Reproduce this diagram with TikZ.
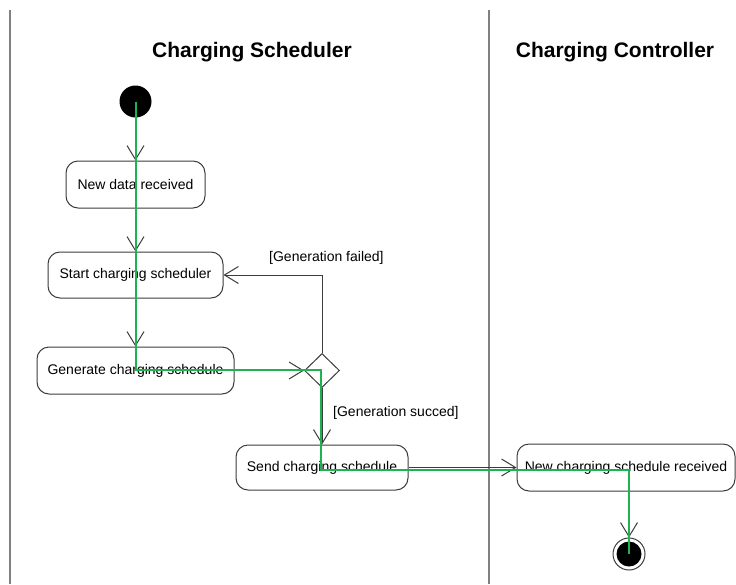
\documentclass[tikz,border=0pt]{standalone}
\usepackage{fontspec}
\setmainfont{Liberation Sans}
\usetikzlibrary{arrows.meta,shapes.geometric}
\definecolor{lanegray}{RGB}{128,128,128}
\definecolor{edgegray}{RGB}{60,60,60}
\definecolor{tracegreen}{RGB}{30,178,80}

\begin{document}
\begin{tikzpicture}[x=1pt,y=-1pt,
  lane/.style={draw=lanegray, line width=2pt},
  lanetitle/.style={font=\fontsize{21}{24}\selectfont\bfseries, inner sep=0pt},
  action/.style={draw=edgegray, line width=1pt, rounded corners=12pt,
    minimum height=46pt, inner sep=0pt, font=\fontsize{14}{16}\selectfont},
  guard/.style={font=\fontsize{14}{16}\selectfont, inner sep=0pt, anchor=west},
  flow/.style={draw=edgegray, line width=1pt,
    -{Straight Barb[length=14pt,width=17pt,line width=1pt]}},
  trace/.style={draw=tracegreen, line width=2pt}]

\useasboundingbox (0,0) rectangle (736,584);

% swimlane separators
\draw[lane] (10,10) -- (10,584);
\draw[lane] (489,10) -- (489,584);

% swimlane titles
\node[lanetitle] (lane1) at (252,52) {Charging Scheduler};
\node[lanetitle] (lane2) at (615,52) {Charging Controller};

% initial and final nodes
\node[circle, fill=black, minimum size=32pt, inner sep=0pt] (init) at (135.5,101.5) {};
\node[circle, draw=edgegray, line width=1pt, minimum size=32pt, inner sep=0pt] (final) at (629,554) {};
\fill[black] (final.center) circle (12.5pt);

% actions
\node[action, minimum width=139pt, minimum height=47pt] (newdata) at (135.5,184.5) {New data received};
\node[action, minimum width=175pt] (start) at (135.5,275) {Start charging scheduler};
\node[action, minimum width=197pt, minimum height=47pt] (generate) at (135.5,370.5) {Generate charging schedule};
\node[action, minimum width=172pt, minimum height=45pt] (send) at (322,467.5) {Send charging schedule};
\node[action, minimum width=218pt, minimum height=47pt] (recv) at (626,467.5) {New charging schedule received};

% decision
\node[diamond, draw=edgegray, line width=1pt, minimum width=35pt, minimum height=34pt, inner sep=0pt] (dec) at (322,370.5) {};

% control flows
\draw[flow] (init) -- (newdata);
\draw[flow] (newdata) -- (start);
\draw[flow] (start) -- (generate);
\draw[flow] (generate.east) -- (dec.west);
\draw[flow] (dec.north) |- (start.east);
\draw[flow] (dec.south) -- (send.north);
\draw[flow] (send.east) -- (recv.west);
\draw[flow] (recv.south -| final) -- (final.north);

% guards
\node[guard] (failed) at (269,258) {[Generation failed]};
\node[guard] (succ) at (333,413) {[Generation succed]};

% highlighted execution path
\coordinate (g1) at ([xshift=-1pt,yshift=1pt]dec.center);
\coordinate (g2) at ([yshift=-2pt]recv.center);
\draw[trace] (init.center) |- (g1) |- (g2) -| (final.center);

\end{tikzpicture}
\end{document}
